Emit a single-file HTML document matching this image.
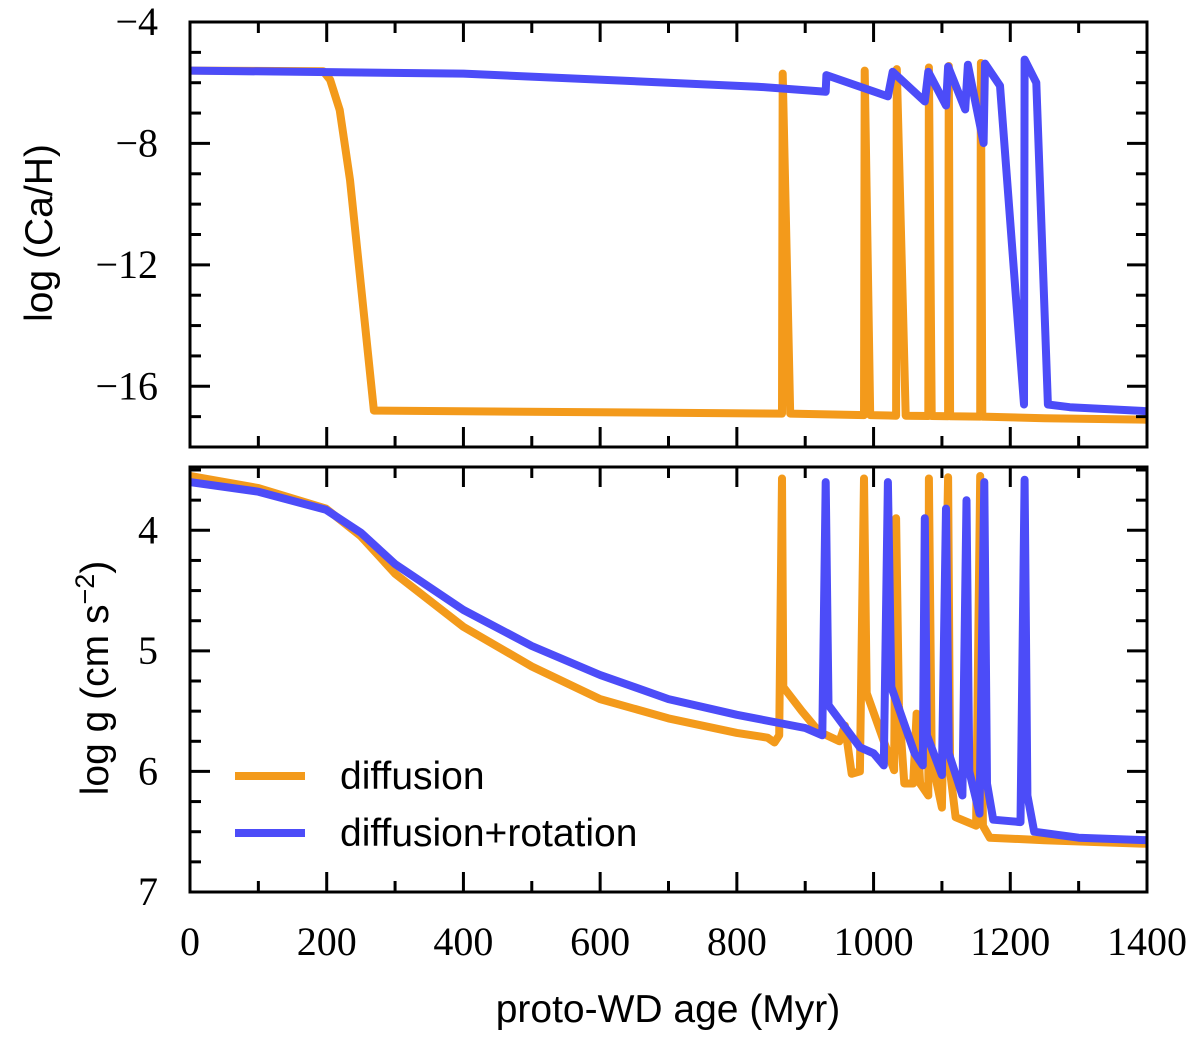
<!DOCTYPE html>
<html><head><meta charset="utf-8"><style>
html,body{margin:0;padding:0;background:#fff;}
svg{display:block;}
.tl{font-family:"Liberation Serif",serif;font-size:40px;fill:#000;}
.al{font-family:"Liberation Sans",sans-serif;font-size:39px;fill:#000;}
</style></head><body>
<svg id="chart" width="1200" height="1041" viewBox="0 0 1200 1041" xmlns="http://www.w3.org/2000/svg"></svg>
<script>
const xTicks=[0,200,400,600,800,1000,1200,1400];
const topYTicks=[-4,-8,-12,-16];
const botYTicks=[4,5,6,7];
const seriesNames=["diffusion","diffusion+rotation"];
const orangeTop=[[0,-5.6],[195,-5.62],[205,-5.9],[219,-6.9],[234,-9.2],[269,-16.8],[866,-16.9],[867,-5.7],[878,-16.9],[986,-16.95],[987,-5.6],[995,-16.95],[1033,-16.97],[1034,-5.55],[1047,-16.97],[1080,-16.98],[1081,-5.5],[1085,-16.98],[1109,-16.99],[1110,-5.45],[1112,-16.99],[1156,-17],[1157,-5.35],[1159,-17],[1250,-17.05],[1400,-17.1]];
const blueTop=[[0,-5.6],[400,-5.7],[830,-6.13],[930,-6.3],[931,-5.75],[1021,-6.45],[1028,-5.64],[1075,-6.62],[1080,-5.64],[1106,-6.75],[1109,-5.47],[1134,-6.88],[1138,-5.41],[1161,-7.99],[1163,-5.37],[1185,-6.1],[1220,-16.6],[1221,-5.24],[1238,-6.0],[1255,-16.6],[1287,-16.69],[1400,-16.82]];
const orangeBot=[[0,3.55],[100,3.65],[199,3.82],[250,4.05],[300,4.36],[400,4.8],[500,5.13],[600,5.4],[700,5.56],[800,5.68],[845,5.72],[855,5.76],[862,5.7],[866,3.57],[868,5.3],[895,5.5],[920,5.67],[950,5.75],[958,5.62],[968,6.02],[980,6.0],[986,3.57],[990,5.35],[1030,5.99],[1033,3.9],[1037,5.45],[1045,6.1],[1058,6.1],[1063,5.52],[1068,6.1],[1080,6.2],[1081,3.57],[1085,5.9],[1100,6.3],[1109,3.56],[1112,6.0],[1120,6.38],[1150,6.45],[1156,3.55],[1160,6.45],[1170,6.55],[1250,6.57],[1400,6.6]];
const blueBot=[[0,3.6],[100,3.68],[199,3.83],[250,4.02],[300,4.28],[400,4.66],[500,4.96],[600,5.2],[700,5.4],[800,5.53],[900,5.64],[925,5.7],[930,3.6],[934,5.45],[980,5.8],[1000,5.85],[1015,5.95],[1021,3.6],[1026,5.3],[1060,5.85],[1072,5.95],[1075,3.9],[1078,5.7],[1100,6.03],[1106,3.82],[1110,5.85],[1130,6.2],[1136,3.75],[1140,6.0],[1155,6.35],[1162,3.6],[1166,6.1],[1175,6.4],[1215,6.42],[1221,3.58],[1225,6.2],[1235,6.5],[1300,6.55],[1400,6.57]];

const NS="http://www.w3.org/2000/svg";
const svg=document.getElementById('chart');
const L=190,R=1147;
const T1=22,B1=447,T2=467,B2=892;
const xS=v=>L+(v-0)/1400*(R-L);
const y1=v=>T1+(-4-v)/14*(B1-T1);
const y2=v=>T2+(v-3.475)/(7-3.475)*(B2-T2);
function mk(tag,attrs,parent){const e=document.createElementNS(NS,tag);for(const k in attrs)e.setAttribute(k,attrs[k]);(parent||svg).appendChild(e);return e;}

function panel(T,B,yf,yMin,yMax,minorStep,majors,name){
  const g=mk('g',{});
  
  
  for(let v=0;v<=1400;v+=100){
    const x=xS(v),len=(v%200===0)?20:11;
    mk('line',{x1:x,x2:x,y1:B,y2:B-len,stroke:'#000','stroke-width':3},g);
    mk('line',{x1:x,x2:x,y1:T,y2:T+len,stroke:'#000','stroke-width':3},g);
  }
  const n=Math.round((yMax-yMin)/minorStep);
  for(let i=0;i<=n;i++){
    const v=yMin+i*minorStep;const y=yf(v);
    if(y<T-0.5||y>B+0.5)continue;
    const maj=majors.some(m=>Math.abs(m-v)<1e-6);const len=maj?20:11;
    mk('line',{x1:L,x2:L+len,y1:y,y2:y,stroke:'#000','stroke-width':3},g);
    mk('line',{x1:R,x2:R-len,y1:y,y2:y,stroke:'#000','stroke-width':3},g);
  }
  majors.forEach(m=>{
    const t=mk('text',{x:L-32,y:yf(m)+13,'text-anchor':'end',class:'tl'},g);
    t.textContent=(m<0?'\u2212'+Math.abs(m):String(m));
    
    
  });
  return g;
}
function line(data,xf,yf,color,name,clipId){
  const p=mk('path',{d:data.map((d,i)=>(i?'L':'M')+xf(d[0]).toFixed(1)+' '+yf(d[1]).toFixed(1)).join(' '),fill:'none',stroke:color,'stroke-width':8,'stroke-linejoin':'round','stroke-linecap':'round','clip-path':'url(#'+clipId+')'});
  
  
}
const defs=mk('defs',{});
const c1=mk('clipPath',{id:'c1'},defs);mk('rect',{x:L,y:T1,width:R-L,height:B1-T1},c1);
const c2=mk('clipPath',{id:'c2'},defs);mk('rect',{x:L,y:T2,width:R-L,height:B2-T2},c2);

const OR='#f39a1b',BL='#4c4cf8';
line(orangeTop,xS,y1,OR,'diffusion-line-top','c1');
line(blueTop,xS,y1,BL,'rotation-line-top','c1');
line(orangeBot,xS,y2,OR,'diffusion-line-bottom','c2');
line(blueBot,xS,y2,BL,'rotation-line-bottom','c2');

panel(T1,B1,y1,-18,-4,1,topYTicks,'top-panel-axes');
panel(T2,B2,y2,3.5,7,0.25,botYTicks,'bottom-panel-axes');
const f1=mk('rect',{x:L,y:T1,width:R-L,height:B1-T1,fill:'none',stroke:'#000','stroke-width':3});


const f2=mk('rect',{x:L,y:T2,width:R-L,height:B2-T2,fill:'none',stroke:'#000','stroke-width':3});



xTicks.forEach(v=>{
  const t=mk('text',{x:xS(v),y:955,'text-anchor':'middle',class:'tl'});
  t.textContent=String(v);
  
  
});
const xt=mk('text',{x:668,y:1022,'text-anchor':'middle',class:'al'});
xt.textContent='proto-WD age (Myr)';


const yt1=mk('text',{x:0,y:0,'text-anchor':'middle',class:'al',transform:'translate(52,233) rotate(-90)'});
yt1.textContent='log (Ca/H)';


const yt2=mk('text',{x:0,y:0,'text-anchor':'middle',class:'al',transform:'translate(108,678) rotate(-90)'});
yt2.innerHTML='log g (cm s<tspan dy="-14" font-size="27">\u22122</tspan><tspan dy="14">)</tspan>';



const lg=mk('g',{});


[[OR,776],[BL,833]].forEach((s,i)=>{
  const ln=mk('line',{x1:235,x2:305,y1:s[1],y2:s[1],stroke:s[0],'stroke-width':8},lg);
  
  
  const t=mk('text',{x:340,y:s[1]+13,class:'al'},lg);
  t.textContent=seriesNames[i];
  
  
});
</script>
</body></html>
